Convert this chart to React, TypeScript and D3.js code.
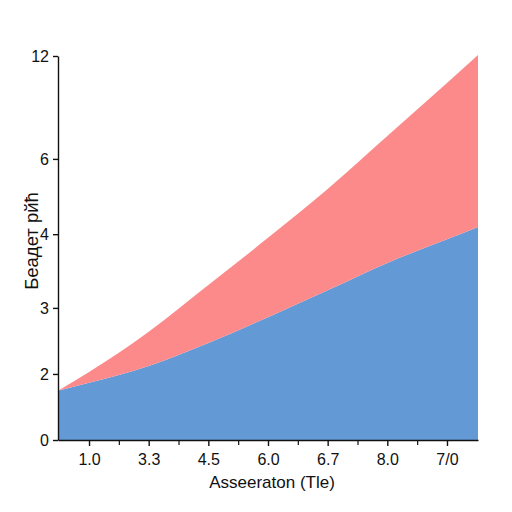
import * as d3 from 'd3';
import { useRef, useEffect } from 'react';

// category labels along the bottom (shown at index positions 0..6)
const xLabels = ['1.0', '3.3', '4.5', '6.0', '6.7', '8.0', '7/0'];
// sample positions in index units (slightly beyond first/last label)
const xPositions = [-0.52, 0, 1, 2, 3, 4, 5, 6, 6.52];
const blueValues = [1.49, 1.73, 2.12, 2.47, 2.86, 3.24, 3.61, 3.93, 4.19];
const redValues = [0, 0.3, 0.52, 0.84, 1.09, 1.96, 3.73, 6.5, 7.87];
const yTicks = [0, 2, 3, 4, 6, 12];

const width = 512;
const height = 512;
const margin = { top: 56, right: 34, bottom: 72, left: 58 };

const App: React.FC = () => {
  const ref = useRef<SVGSVGElement>(null);

  useEffect(() => {
    if (!ref.current) return;
    const svg = d3.select(ref.current);
    svg.selectAll('*').remove();

    const bottom = height - margin.bottom;
    const plotH = bottom - margin.top;

    const x = d3.scaleLinear()
      .domain([-0.52, 6.52])
      .range([margin.left, width - margin.right]);

    // the reference axis is uneven, so a piecewise scale
    const y = d3.scaleLinear()
      .domain(yTicks)
      .range([0, 0.172, 0.344, 0.536, 0.732, 1].map(f => bottom - f * plotH));

    const rows = xPositions.map((p, i) => ({ pos: p, blue: blueValues[i], red: redValues[i] }));
    const stacked = d3.stack<any>().keys(['blue', 'red'])(rows);
    const colors: Record<string, string> = { blue: '#6399d5', red: '#fd8a8b' };

    const area = d3.area<any>()
      .x(d => x(d.data.pos))
      .y0(d => y(d[0]))
      .y1(d => y(d[1]))
      .curve(d3.curveMonotoneX);

    svg.append('g')
      .selectAll('path')
      .data(stacked)
      .join('path')
      .attr('fill', d => colors[d.key])
      .attr('d', area);

    const font = '"Liberation Sans", Arial, sans-serif';

    // y axis
    const yAxis = svg.append('g')
      .attr('transform', `translate(${margin.left},0)`)
      .call(d3.axisLeft(y).tickValues(yTicks).tickFormat(d3.format('d')).tickSize(5).tickSizeOuter(0).tickPadding(4));
    yAxis.selectAll('text').attr('font-size', 16).attr('font-family', font).attr('fill', '#111');
    yAxis.selectAll('line, path').attr('stroke', '#111').attr('stroke-width', 1.4);

    // x axis, major ticks with labels
    const xAxis = svg.append('g')
      .attr('transform', `translate(0,${bottom})`)
      .call(d3.axisBottom(x).tickValues(d3.range(xLabels.length))
        .tickFormat((d: any) => xLabels[d]).tickSize(6).tickSizeOuter(0).tickPadding(8));
    xAxis.selectAll('text').attr('font-size', 16).attr('font-family', font).attr('fill', '#111');
    xAxis.selectAll('line, path').attr('stroke', '#111').attr('stroke-width', 1.4);

    // minor ticks between labels
    const minor = svg.append('g')
      .attr('transform', `translate(0,${bottom})`)
      .call(d3.axisBottom(x).tickValues(d3.range(0.5, xLabels.length - 1, 1))
        .tickFormat(() => '').tickSize(5).tickSizeOuter(0));
    minor.select('.domain').remove();
    minor.selectAll('line').attr('stroke', '#111').attr('stroke-width', 1.2);

    svg.append('text')
      .attr('x', (margin.left + width - margin.right) / 2 + 4)
      .attr('y', 488)
      .attr('text-anchor', 'middle')
      .attr('font-size', 17)
      .attr('font-family', font)
      .attr('fill', '#111')
      .text('Asseeraton (Tle)');

    svg.append('text')
      .attr('transform', 'translate(38,241) rotate(-90)')
      .attr('text-anchor', 'middle')
      .attr('font-size', 18.5)
      .attr('font-family', font)
      .attr('fill', '#111')
      .text('Беaдет рйћ');
  }, []);

  return (
    <svg
      ref={ref}
      width={width}
      height={height}
      style={{ position: 'absolute', left: 0, top: 0, background: '#fff' }}
    />
  );
};

export default App;
